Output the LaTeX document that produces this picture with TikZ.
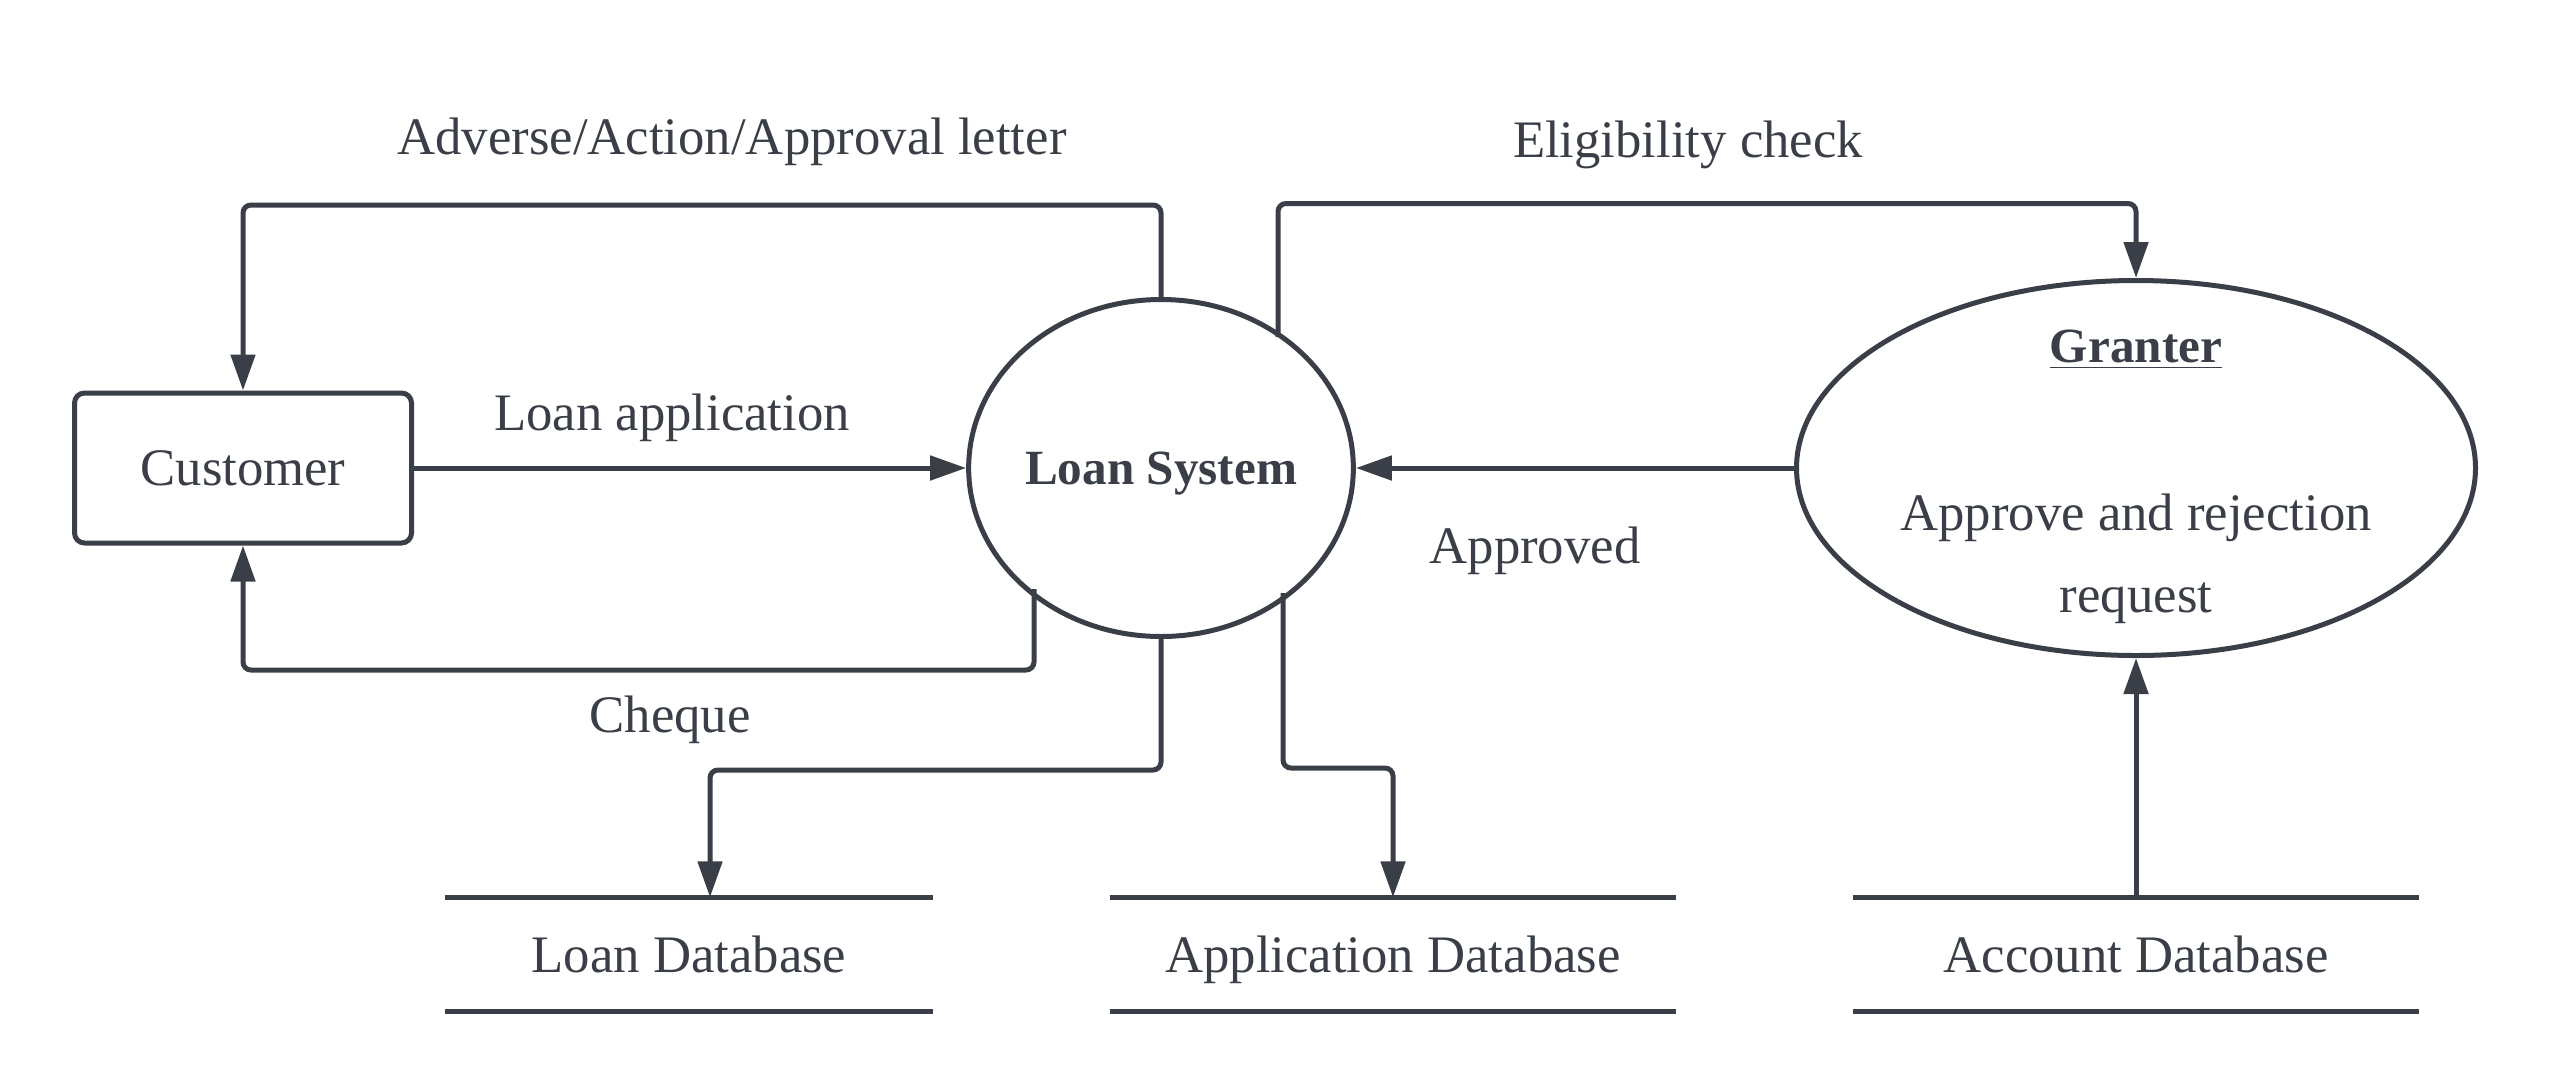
\documentclass[tikz,border=0pt]{standalone}
\usepackage{fontspec}
\setmainfont{Liberation Serif}
\usetikzlibrary{shapes.geometric,arrows.meta,calc}
\definecolor{ink}{RGB}{58,63,71}
\tikzset{
  base/.style={font=\fontsize{15}{18}\selectfont, text=ink, text depth=0pt},
  custbox/.style={base, draw=ink, line width=0.05cm, rounded corners=0.1cm, minimum width=3.37cm, minimum height=1.5cm},
  proc/.style={base, draw=ink, line width=0.05cm, ellipse, inner sep=0pt},
  dbnode/.style={base, minimum height=1.13cm, inner sep=0pt},
  lbl/.style={base},
  arr/.style={draw=ink, line width=0.05cm, rounded corners=0.08cm, -{Triangle[length=3.6mm,width=2.4mm]}},
  dbline/.style={draw=ink, line width=0.05cm}
}
\begin{document}
\begin{tikzpicture}
\useasboundingbox (0,0) rectangle (25.5,-10.88);
% nodes
\node[custbox] (cust) at (2.43,-4.68) {Customer};
\node[proc, minimum width=3.66cm, minimum height=3.37cm] (ls) at (11.61,-4.68) {\fontsize{14}{17}\selectfont\bfseries Loan System};
\node[proc, minimum width=6.79cm, minimum height=3.75cm] (gr) at (21.36,-4.68) {};
\node[lbl] (grt) at (21.36,-3.46) {\fontsize{14}{17}\selectfont\bfseries\underline{Granter}};
\node[lbl] (grd1) at (21.36,-5.12) {Approve and rejection};
\node[lbl] (grd2) at (21.36,-5.98) {request};
\node[dbnode, minimum width=4.86cm] (ldb) at (6.89,-9.545) {Loan Database};
\node[dbnode, minimum width=5.64cm] (adb) at (13.93,-9.545) {Application Database};
\node[dbnode, minimum width=5.64cm] (cdb) at (21.36,-9.545) {Account Database};
\foreach \d in {ldb,adb,cdb}{
  \draw[dbline] (\d.north west) -- (\d.north east);
  \draw[dbline] (\d.south west) -- (\d.south east);
}
% labels
\node[lbl] (l1) at (7.32,-1.36) {Adverse/Action/Approval letter};
\node[lbl] (l2) at (16.88,-1.39) {Eligibility check};
\node[lbl] (l3) at (6.72,-4.12) {Loan application};
\node[lbl] (l4) at (6.70,-7.14) {Cheque};
\node[lbl] (l5) at (15.35,-5.45) {Approved};
% connectors
\draw[arr] (ls.north) -- ++(0,0.92) -| (cust.north);
\draw[arr] ($(ls.center)+(1.17,1.31)$) -- ++(0,1.335) -| (gr.north);
\draw[arr] (cust.east) -- (ls.west);
\draw[arr] ($(ls.center)+(-1.27,-1.21)$) -- ++(0,-0.81) -| (cust.south);
\draw[arr] (gr.west) -- (ls.east);
\draw[arr] (ls.south) -- ++(0,-1.31) -| ([xshift=0.21cm]ldb.north);
\draw[arr] ($(ls.center)+(1.22,-1.25)$) -- ++(0,-1.75) -| (adb.north);
\draw[arr] (cdb.north) -- (gr.south);
\end{tikzpicture}
\end{document}
